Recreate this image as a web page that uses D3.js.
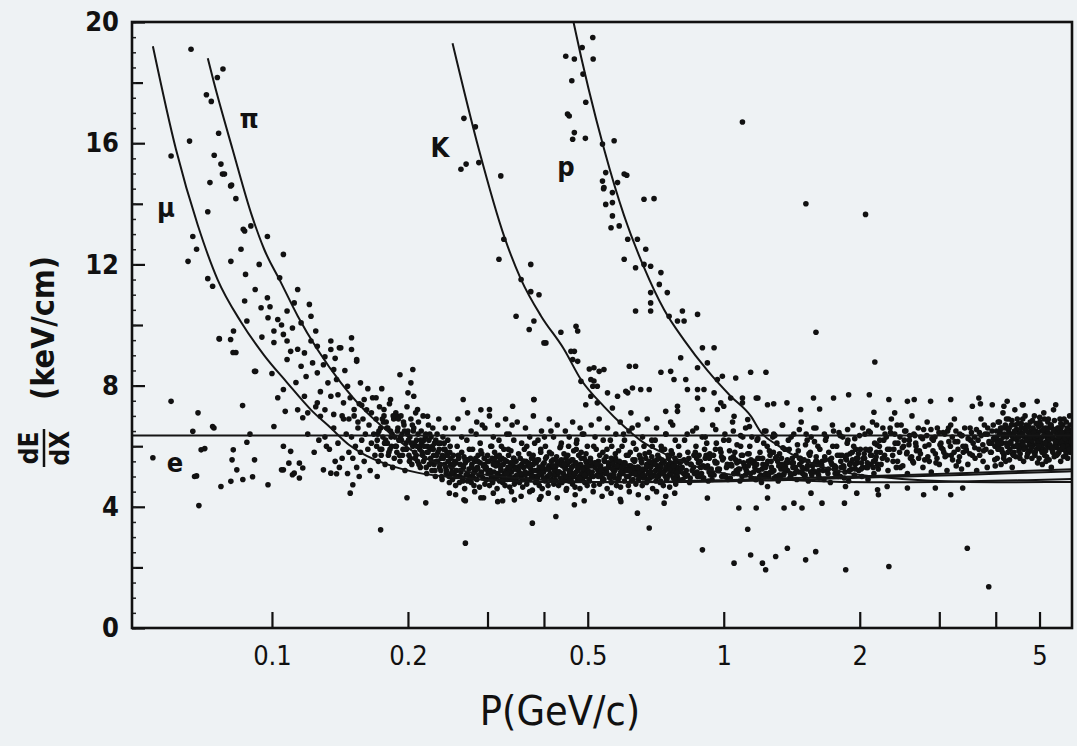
<!DOCTYPE html>
<html>
<head>
<meta charset="utf-8">
<script src="https://cdn.jsdelivr.net/npm/d3@7"></script>
<style>
body { margin: 0; background: #eef2f4; }
svg { display: block; }
text { font-family: "DejaVu Sans Condensed", "DejaVu Sans", sans-serif; fill: #111; }
</style>
</head>
<body>
<svg width="1077" height="746"></svg>
<script>
// assi
var xTicks = [0.1, 0.2, 0.3, 0.4, 0.5, 1, 2, 3, 4, 5];
var xLabels = ["0.1", "0.2", "", "", "0.5", "1", "2", "", "", "5"];
var yMajor = [0, 4, 8, 12, 16, 20];
var yMid = [2, 6, 10, 14, 18];

// curve teoriche (p in GeV/c, dE/dx in keV/cm)
var eP = [0.049, 5.9];
var eE = [6.35, 6.35];
var muP = [0.0545, 0.0613, 0.0685, 0.0758, 0.0854, 0.0961, 0.108, 0.122, 0.135, 0.148, 0.159, 0.18, 0.211, 0.264, 0.338, 0.455, 0.634, 1.0, 1.59, 2.64, 4.02, 5.9];
var muE = [19.2, 15.8, 13.3, 11.5, 10.1, 9.0, 8.1, 7.2, 6.6, 6.05, 5.75, 5.4, 5.12, 4.95, 4.85, 4.81, 4.82, 4.88, 4.97, 5.06, 5.15, 5.24];
var piP = [0.0721, 0.0744, 0.0818, 0.0903, 0.0961, 0.1047, 0.114, 0.126, 0.142, 0.16, 0.177, 0.196, 0.209, 0.237, 0.279, 0.349, 0.447, 0.6, 0.838, 1.33, 2.09, 3.49, 5.3, 5.9];
var piE = [18.8, 18.0, 15.8, 13.6, 12.5, 11.4, 10.3, 9.2, 8.1, 7.2, 6.6, 6.05, 5.75, 5.4, 5.12, 4.95, 4.85, 4.81, 4.82, 4.88, 4.97, 5.06, 5.15, 5.17];
var kP = [0.251, 0.287, 0.327, 0.356, 0.394, 0.443, 0.483, 0.544, 0.602, 0.66, 0.741, 0.84, 0.988, 1.235, 1.58, 2.12, 2.96, 4.69, 5.9];
var kE = [19.3, 15.8, 12.9, 11.5, 10.3, 9.2, 8.2, 7.3, 6.65, 6.15, 5.75, 5.4, 5.12, 4.95, 4.85, 4.81, 4.82, 4.88, 4.92];
var prP = [0.462, 0.4665, 0.5435, 0.602, 0.666, 0.738, 0.817, 0.92, 1.036, 1.147, 1.21, 1.31, 1.41, 1.59, 1.88, 2.35, 3.0, 4.03, 5.9];
var prE = [20.2, 19.9, 15.8, 13.6, 11.9, 10.5, 9.5, 8.5, 7.65, 7.0, 6.45, 6.05, 5.75, 5.4, 5.12, 4.95, 4.85, 4.81, 4.82];

// punti misurati: coppie p, dE/dx
var lowTracks = [
.0662,19.1, .0779,18.45, .0757,18.17, .0716,17.6, .0734,17.38, .0762,16.33, .0657,16.07, .0598,15.58, .0745,15.6, .0771,15.31,
.0777,14.98, .0729,14.7, .0814,14.62, .0832,14.17, .0721,13.74, .0668,12.92, .0977,12.92, .0864,13.16, .0898,13.27, .0785,14.98,
.081,14.59, .087,13.1, .0681,12.5, .0652,12.1, .0854,12.5, .0811,12.1, .106,12.33, .0937,12.0, .0874,11.67, .0721,11.53,
.0739,11.28, .104,11.56, .0918,11.17, .0977,10.9, .087,10.79, .0946,10.57, .098,10.24, .088,10.13, .103,10.18, .114,11.17,
.121,10.68, .112,10.73, .108,10.46, .122,10.29, .116,10.07, .0822,9.8, .0765,9.54, .081,9.52, .0832,9.09, .101,9.8,
.106,9.69, .108,9.47, .101,9.42, .11,9.13, .114,9.2, .118,9.08, .122,9.47, .126,9.3, .135,9.47, .142,9.25,
.15,9.58, .15,9.19, .154,8.8, .108,8.86, .116,8.64, .123,8.75, .13,8.69, .137,8.53, .139,8.2, .126,8.42,
.133,8.09, .147,7.98, .157,8.09, .0915,8.47, .0861,7.34, .106,7.87, .118,7.65, .126,7.43, .135,7.65, .144,7.43,
.152,7.21, .16,7.54, .166,7.1, .177,7.21, .192,8.36, .205,8.53, .203,8.09, .206,7.65, .2,7.76, .183,7.54,
.19,6.99, .21,7.21, .221,6.99, .107,7.15, .114,7.2, .117,6.94, .12,7.1, .128,6.99, .141,9.25, .135,9.19,
.154,8.86, .0764,9.55, .095,9.6, .099,10.6, .105,10.0, .111,9.9, .125,9.8, .131,8.95, .138,8.9, .145,8.5,
.119,8.3, .113,8.1, .128,7.8, .14,7.7, .149,7.6, .158,7.35, .163,7.9, .17,7.6, .175,7.9, .1,8.4,
.103,7.6, .125,7.3, .131,7.2, .137,7.05, .143,7.0, .148,6.9, .155,6.8,
.131,6.3, .134,5.9, .137,6.6, .14,6.1, .143,5.6, .146,6.4, .148,5.8, .144,6.9, .138,5.5, .132,6.0,
.127,6.2, .124,5.8, .12,6.4, .141,5.3, .147,5.1
];
var eRegion = [
.0598,7.48, .0686,7.1, .0744,6.6, .0668,6.49, .0545,5.62, .071,5.92, .0821,5.88, .0816,5.55, .0836,5.22, .088,6.13,
.0915,5.55, .0906,4.99, .0681,5.02, .0771,4.67, .0811,4.84, .098,4.73, .0689,4.04, .106,5.22, .111,5.06, .092,8.47,
.082,9.09, .101,6.65, .106,6.0, .11,5.83, .109,5.44, .115,5.44, .112,5.11, .117,5.28, .105,5.22, .115,4.95,
.13,5.22, .135,5.11, .139,5.09, .149,4.45, .151,4.73, .156,5.0, .171,5.0, .174,3.24, .199,4.3, .219,4.13,
.247,4.45, .266,4.23, .268,2.8, .29,4.3, .316,4.17, .344,4.23, .0739,6.65, .0697,5.88, .0674,5.0, .0862,4.9,
.0894,6.4
];
var kpTracks = [
.513,19.49, .447,18.87, .467,18.78, .486,19.16, .514,18.78, .461,18.06, .488,18.28, .495,17.35, .451,16.96, .455,16.9,
.467,16.35, .463,16.13, .494,16.16, .539,15.97, .572,16.08, .548,15.03, .539,14.75, .542,14.5, .61,14.94, .582,14.7,
.567,14.37, 1.1,16.7, .266,16.82, .282,16.54, .262,15.14, .269,15.31, .321,14.92, .287,15.36, .326,12.83, .318,12.17,
.374,12.0, .356,11.5, .39,11.0, .374,11.1, .347,10.29, .38,10.13, .371,9.85, .404,9.41, .436,9.76, .471,9.96,
.475,9.8, .467,9.13, .475,8.8, .516,8.59, .543,8.53, .638,8.64, .516,8.15, .525,7.98, .483,8.14, .628,7.92,
.613,7.76, .582,7.65, .553,7.76, .508,7.65, .495,7.37, .525,7.43, .567,7.26, .623,7.1, .684,7.87, .763,8.47,
.824,8.2, .79,7.15, .875,7.87, .265,7.54, .29,7.2, .303,7.21, .341,7.32, .38,7.54, .602,14.98, .543,14.54,
.567,14.04, .548,13.98, .567,13.6, .563,13.21, .587,13.27, .666,14.15, .701,14.17, .613,12.83, .644,12.83, .672,12.5,
.602,12.17, .638,11.89, .666,12.0, .689,11.94, .726,11.73, .72,11.34, .75,11.07, .689,11.07, .689,10.73, .689,10.46,
.638,10.46, .757,10.29, .81,10.46, .817,10.13, .79,10.13, .875,10.35, .952,9.25, .803,8.92, .92,8.75, .875,8.59,
1.063,8.25, .968,8.2, .904,7.87, .875,7.59, .952,7.76, .985,7.43, 1.036,7.59, 1.1,7.43, 1.18,7.59, .968,7.21,
1.054,6.99, 1.13,6.88, .4,9.41, .459,9.13, .463,8.86, .618,8.64, .897,9.25, .504,8.55, .53,8.47, .508,8.2,
.513,7.98
];
var isolated = [
1.6,9.76, 2.16,8.78, 1.52,14.0, 2.06,13.65,
.897,2.58, 1.054,2.14, 1.147,2.41, 1.218,2.14, 1.238,1.92, 1.303,2.36, 1.383,2.63, 1.518,2.25, 1.598,2.52, 1.862,1.92,
2.32,2.03, 3.46,2.63, 3.86,1.36
];
var upperFringe = [
1.147,8.44, .993,8.31, .726,8.44, .776,8.2, .831,7.87, .655,7.87, .38,7.54, .607,7.81, 1.58,7.59, 1.89,7.7,
2.32,7.54, 2.55,7.48, 3.18,7.54, 3.55,7.32, 3.93,7.37, 4.58,7.37, 4.24,7.48, 1.1,7.59, 1.25,7.37, 1.29,7.4,
.744,7.15, .79,7.32, .897,7.21, 1.0,7.32, 1.48,7.21, 1.24,8.44, 1.19,7.59, 1.38,7.43, 1.63,7.23, 1.75,7.59,
2.1,7.7, 2.64,7.54, 2.87,7.48, 3.67,7.59, 3.7,7.4, 4.17,7.32, 4.6,7.37, 4.94,7.48, 5.43,7.37, 2.15,7.12,
2.39,7.1
];
var lowerFringe = [
.377,3.46, .425,3.68, .684,3.3, 1.13,3.26, .644,3.79, 1.08,3.96, 1.36,3.96, 1.65,4.12, 2.77,4.4, 2.94,4.62,
1.43,4.12, .467,4.07, .394,4.34, .592,4.17, .738,4.12, .92,4.29, 1.97,4.45, 2.19,4.56, 2.3,4.67, 1.86,4.67,
1.56,4.45, 1.25,4.67, 1.18,3.96, 1.49,3.96, 1.85,4.12, 3.18,4.4, 3.38,4.62, 2.2,4.4, 2.55,4.62, 1.25,4.29,
.255,4.4, .268,4.2, .281,4.5, .294,4.3, .309,4.45, .324,4.2, .339,4.5, .356,4.35, .372,4.5, .391,4.25,
.409,4.45, .428,4.3, .448,4.55, .469,4.4, .491,4.2, .514,4.5, .538,4.35, .563,4.45, .59,4.25, .618,4.5,
.647,4.4, .678,4.3, .71,4.5, .744,4.35, .779,4.45
];
// banda densa, p da 0.15 a 0.25
var band1 = [
.150,6.3, .151,5.6, .152,7.0, .153,6.0, .154,5.3, .155,6.6, .156,7.4, .157,5.8, .158,6.2, .159,6.9,
.160,5.5, .161,6.4, .162,7.2, .163,5.9, .164,6.7, .165,5.2, .166,6.1, .167,7.6, .168,6.4, .169,5.7,
.170,6.9, .171,6.2, .172,5.5, .173,7.3, .174,6.6, .175,5.9, .176,6.3, .177,7.0, .178,5.4, .179,6.8,
.180,6.1, .181,5.7, .182,7.4, .183,6.5, .184,6.0, .185,5.3, .186,6.9, .187,6.3, .188,7.1, .189,5.8,
.190,6.6, .191,6.2, .192,5.5, .193,7.0, .194,6.4, .195,5.9, .196,6.7, .197,5.2, .198,6.1, .199,7.3,
.200,6.5, .201,5.7, .202,6.3, .203,6.9, .204,5.4, .205,6.0, .206,6.6, .207,5.8, .208,7.1, .209,6.2,
.210,5.5, .211,6.8, .212,6.0, .213,5.3, .214,6.5, .215,5.8, .216,7.0, .217,6.2, .218,5.6, .219,6.4,
.220,5.1, .221,6.0, .222,6.7, .223,5.4, .224,5.9, .225,6.3, .226,5.2, .227,6.6, .228,5.7, .229,6.1,
.230,5.0, .231,5.5, .232,6.4, .233,5.8, .234,6.9, .235,5.3, .236,6.1, .237,5.6, .238,4.9, .239,6.3,
.240,5.9, .241,5.4, .242,6.6, .243,5.1, .244,5.8, .245,6.2, .246,5.5, .247,4.8, .248,6.0, .249,5.6,
.1705,6.0, .1725,6.5, .1745,5.7, .1765,6.8, .1785,6.2, .1805,6.6, .1825,5.9, .1845,6.4, .1865,5.6, .1885,6.0,
.1905,6.9, .1925,6.3, .1945,5.7, .1965,6.5, .1985,5.9, .2005,6.2, .2025,5.6, .2045,6.7, .2065,6.1, .2085,5.7,
.2105,6.4, .2125,5.9, .2145,6.1, .2165,5.5, .2185,6.3, .2205,5.8, .2225,6.2, .2245,5.6, .2265,6.0, .2285,5.4,
.2305,6.2, .2325,5.5, .2345,5.9, .2365,5.2, .2385,5.7, .2405,6.1, .2425,5.3, .2445,5.7, .2465,5.0, .2485,5.4,
.1715,6.4, .1735,5.9, .1755,6.9, .1775,6.1, .1795,6.6, .1815,5.8, .1835,6.3, .1855,7.0, .1875,6.0, .1895,6.5,
.1915,5.7, .1935,6.2, .1955,6.8, .1975,5.9, .1995,6.4, .2015,5.5, .2035,6.1, .2055,6.5, .2075,5.6, .2095,6.0,
.2115,5.4, .2135,6.2, .2155,5.7, .2175,6.0, .2195,5.3, .2215,5.8, .2235,6.4, .2255,5.5, .2275,5.9, .2295,5.2,
.2315,5.7, .2335,6.1, .2355,5.4, .2375,5.0, .2395,5.6, .2415,5.9, .2435,5.2, .2455,5.5, .2475,5.8, .2495,5.1
];
// banda densa, p da 0.25 a 0.8
var band2 = [
.250,5.3, .251,4.9, .252,5.7, .253,5.1, .254,5.5, .255,4.7, .256,5.2, .257,6.0, .258,5.0, .259,5.6,
.260,4.8, .261,5.4, .262,5.15, .263,5.8, .264,4.95, .265,5.35, .266,5.65, .267,4.6, .268,5.45, .269,5.05,
.270,6.2, .271,4.85, .272,5.55, .273,5.25, .274,5.0, .275,5.6, .276,4.8, .277,5.4, .278,5.9, .279,5.1,
.280,4.7, .281,5.5, .282,5.2, .283,6.4, .284,4.9, .285,5.3, .286,5.7, .287,5.05, .288,4.65, .289,5.45,
.290,5.85, .291,5.15, .292,6.7, .293,4.95, .294,5.35, .295,5.6, .296,4.75, .297,5.25, .298,5.3, .299,4.9,
.300,5.7, .301,5.1, .302,5.5, .303,4.7, .304,5.2, .305,6.0, .306,5.0, .307,5.6, .308,4.8, .309,5.4,
.310,5.15, .311,5.8, .312,4.95, .313,5.35, .314,5.65, .315,4.6, .316,5.45, .317,5.05, .318,6.2, .319,4.85,
.320,5.55, .321,5.25, .322,5.0, .323,5.6, .324,4.8, .325,5.4, .326,5.9, .327,5.1, .328,4.7, .329,5.5,
.330,5.2, .331,6.4, .332,4.9, .333,5.3, .334,5.7, .335,5.05, .336,4.65, .337,5.45, .338,5.85, .339,5.15,
.340,6.7, .341,4.95, .342,5.35, .343,5.6, .344,4.75, .345,5.25, .346,5.0, .347,5.5, .348,4.85, .349,5.3,
.3515,5.2, .353,4.8, .3545,5.6, .356,5.0, .3575,5.4, .359,4.65, .3605,5.3, .362,5.9, .3635,5.05, .365,5.5,
.3665,4.75, .368,5.35, .3695,5.1, .371,5.75, .3725,4.9, .374,5.25, .3755,5.6, .377,4.55, .3785,5.4, .380,5.0,
.3815,6.1, .383,4.8, .3845,5.45, .386,5.2, .3875,4.95, .389,5.55, .3905,4.7, .392,5.3, .3935,5.8, .395,5.05,
.3965,4.6, .398,5.4, .3995,5.15, .401,6.3, .4025,4.85, .404,5.25, .4055,5.65, .407,5.0, .4085,4.7, .410,5.35,
.4115,5.8, .413,5.1, .4145,6.5, .416,4.9, .4175,5.3, .419,5.55, .4205,4.75, .422,5.2, .4235,5.25, .425,4.85,
.4265,5.65, .428,5.05, .4295,5.45, .431,4.7, .4325,5.15, .434,5.95, .4355,4.95, .437,5.55, .4385,4.8, .440,5.35,
.4415,5.1, .443,5.75, .4445,4.9, .446,5.3, .4475,5.6, .449,4.6, .4505,5.4, .452,5.0, .4535,6.0, .455,4.85,
.4565,5.5, .458,5.2, .4595,4.95, .461,5.55, .4625,4.75, .464,5.35, .4655,5.85, .467,5.05, .4685,4.65, .470,5.45,
.4715,5.15, .473,6.2, .4745,4.9, .476,5.25, .4775,5.7, .479,5.0, .4805,4.6, .482,5.4, .4835,5.8, .485,5.1,
.4865,6.4, .488,4.95, .4895,5.3, .491,5.6, .4925,4.8, .494,5.2, .4955,5.0, .497,5.45, .4985,4.7,
.501,5.2, .504,4.85, .507,5.6, .510,5.0, .513,5.4, .516,4.7, .519,5.3, .522,5.9, .525,5.05, .528,5.5,
.531,4.75, .534,5.35, .537,5.1, .540,5.8, .543,4.9, .546,5.25, .549,5.65, .552,4.6, .555,5.45, .558,5.0,
.561,6.2, .564,4.8, .567,5.5, .570,5.2, .573,4.95, .576,5.6, .579,4.7, .582,5.3, .585,5.85, .588,5.05,
.591,4.65, .594,5.4, .597,5.15, .600,6.4, .603,4.85, .606,5.25, .609,5.7, .612,5.0, .615,4.7, .618,5.35,
.621,5.8, .624,5.1, .627,6.6, .630,4.9, .633,5.3, .636,5.55, .639,4.75, .642,5.2, .645,5.3, .648,4.9,
.651,5.7, .654,5.1, .657,5.5, .660,4.7, .663,5.2, .666,6.0, .669,5.0, .672,5.6, .675,4.8, .678,5.4,
.681,5.15, .684,5.8, .687,4.95, .690,5.35, .693,5.65, .696,4.6, .699,5.45, .702,5.05, .705,6.2, .708,4.85,
.711,5.55, .714,5.25, .717,5.0, .720,5.6, .723,4.8, .726,5.4, .729,5.9, .732,5.1, .735,4.7, .738,5.5,
.741,5.2, .744,6.4, .747,4.9, .750,5.3, .753,5.7, .756,5.05, .759,4.65, .762,5.45, .765,5.85, .768,5.15,
.771,6.7, .774,4.95, .777,5.35, .780,5.6, .783,4.75, .786,5.25, .789,5.0, .792,5.5, .795,4.9, .798,5.7,
.2505,5.15, .2555,5.45, .2605,5.0, .2655,5.3, .2705,5.55, .2755,4.95, .2805,5.25, .2855,5.5, .2905,5.05, .2955,5.4,
.3005,5.2, .3055,4.9, .3105,5.55, .3155,5.1, .3205,5.35, .3255,5.0, .3305,5.5, .3355,5.2, .3405,5.45, .3455,4.95,
.3505,5.3, .3555,5.1, .3605,5.5, .3655,4.9, .3705,5.35, .3755,5.15, .3805,5.55, .3855,5.0, .3905,5.3, .3955,5.2,
.4005,5.45, .4055,4.95, .4105,5.25, .4155,5.5, .4205,5.05, .4255,5.35, .4305,5.15, .4355,5.4, .4405,4.95, .4455,5.25,
.4505,5.5, .4555,5.1, .4605,5.3, .4655,5.0, .4705,5.45, .4755,5.2, .4805,5.35, .4855,4.9, .4905,5.25, .4955,5.5,
.5025,5.1, .5085,5.35, .5145,5.0, .5205,5.45, .5265,5.2, .5325,5.3, .5385,4.95, .5445,5.5, .5505,5.15, .5565,5.35,
.5625,5.05, .5685,5.4, .5745,5.2, .5805,5.5, .5865,4.95, .5925,5.3, .5985,5.1, .6045,5.45, .6105,5.2, .6165,5.0,
.6225,5.35, .6285,5.25, .6345,5.5, .6405,5.05, .6465,5.3, .6525,5.15, .6585,5.45, .6645,4.95, .6705,5.25, .6765,5.4,
.6825,5.1, .6885,5.3, .6945,5.0, .7005,5.5, .7065,5.2, .7125,5.35, .7185,5.05, .7245,5.3, .7305,5.15, .7365,5.45,
.7425,5.0, .7485,5.25, .7545,5.4, .7605,5.1, .7665,5.3, .7725,5.2, .7785,5.45, .7845,5.05, .7905,5.3, .7965,5.15,
.252,6.6, .258,6.9, .263,6.3, .271,7.1, .276,6.5, .284,6.8, .289,6.1, .296,6.6, .303,7.0, .309,6.3,
.316,6.7, .322,6.0, .329,6.9, .335,6.4, .343,6.2, .349,6.8, .357,6.1, .364,6.6, .372,6.3, .379,7.0,
.388,6.2, .395,6.5, .403,6.0, .411,6.9, .420,6.3, .428,6.7, .437,6.1, .446,6.5, .455,6.3, .463,6.8,
.472,6.1, .481,6.6, .490,6.4, .499,6.0, .509,6.7, .519,6.3, .530,6.9, .541,6.2, .553,6.6, .565,6.0,
.577,6.4, .590,6.8, .603,6.2, .617,6.5, .631,6.1, .646,6.7, .661,6.3, .677,6.9, .693,6.2, .710,6.6,
.727,6.0, .745,6.4, .763,6.8, .781,6.2
];
// terzo strato del nucleo della banda, p da 0.25 a 0.8
var band2c = [
.2525,5.4, .2555,5.0, .2585,5.7, .2615,5.2, .2645,4.85, .2675,5.55, .2705,5.1, .2735,5.9, .2765,5.3, .2795,4.95,
.2825,5.6, .2855,5.25, .2885,5.05, .2915,5.75, .2945,5.35, .2975,4.9, .3005,5.5, .3035,5.15, .3065,6.0, .3095,5.45,
.3125,5.4, .3155,5.0, .3185,5.7, .3215,5.2, .3245,4.85, .3275,5.55, .3305,5.1, .3335,5.9, .3365,5.3, .3395,4.95,
.3425,5.6, .3455,5.25, .3485,5.05, .3515,5.75, .3545,5.35, .3575,4.9, .3605,5.5, .3635,5.15, .3665,6.0, .3695,5.45,
.3725,5.4, .3755,5.0, .3785,5.7, .3815,5.2, .3845,4.85, .3875,5.55, .3905,5.1, .3935,5.9, .3965,5.3, .3995,4.95,
.4035,5.6, .4075,5.25, .4115,5.05, .4155,5.75, .4195,5.35, .4235,4.9, .4275,5.5, .4315,5.15, .4355,6.0, .4395,5.45,
.4435,5.4, .4475,5.0, .4515,5.7, .4555,5.2, .4595,4.85, .4635,5.55, .4675,5.1, .4715,5.9, .4755,5.3, .4795,4.95,
.4835,5.6, .4875,5.25, .4915,5.05, .4955,5.75, .4995,5.35, .5035,4.9, .5075,5.5, .5115,5.15, .5155,6.0, .5195,5.45,
.5235,5.4, .5275,5.0, .5315,5.7, .5355,5.2, .5395,4.85, .5435,5.55, .5475,5.1, .5515,5.9, .5555,5.3, .5595,4.95,
.5635,5.6, .5675,5.25, .5715,5.05, .5755,5.75, .5795,5.35, .5835,4.9, .5875,5.5, .5915,5.15, .5955,6.0, .5995,5.45,
.6045,5.4, .6095,5.0, .6145,5.7, .6195,5.2, .6245,4.85, .6295,5.55, .6345,5.1, .6395,5.9, .6445,5.3, .6495,4.95,
.6545,5.6, .6595,5.25, .6645,5.05, .6695,5.75, .6745,5.35, .6795,4.9, .6845,5.5, .6895,5.15, .6945,6.0, .6995,5.45,
.7045,5.4, .7095,5.0, .7145,5.7, .7195,5.2, .7245,4.85, .7295,5.55, .7345,5.1, .7395,5.9, .7445,5.3, .7495,4.95,
.7545,5.6, .7595,5.25, .7645,5.05, .7695,5.75, .7745,5.35, .7795,4.9, .7845,5.5, .7895,5.15, .7945,6.0, .7995,5.45
];
// banda, p da 0.8 a 2.2
var band3 = [
.805,5.5, .812,4.9, .819,6.2, .826,5.2, .833,5.8, .840,4.8, .847,5.4, .854,6.5, .861,5.1, .868,6.0,
.875,5.0, .882,5.7, .889,5.3, .896,6.3, .903,4.95, .910,5.6, .917,6.1, .924,4.85, .931,5.75, .938,5.25,
.945,6.7, .952,5.05, .959,5.9, .966,5.45, .974,5.2, .982,5.9, .990,5.0, .998,5.6, 1.006,6.4, 1.014,5.3,
1.022,4.9, 1.030,5.85, 1.038,5.4, 1.046,6.8, 1.054,5.1, 1.062,5.55, 1.070,6.05, 1.078,5.25, 1.086,4.85, 1.094,5.7,
1.102,6.3, 1.110,5.35, 1.118,6.6, 1.126,5.15, 1.134,5.5, 1.142,6.0, 1.150,4.95, 1.158,5.45, 1.167,5.5, 1.176,4.9,
1.185,6.2, 1.194,5.2, 1.203,5.8, 1.212,4.8, 1.221,5.4, 1.230,6.5, 1.239,5.1, 1.248,6.0, 1.257,5.0, 1.266,5.7,
1.275,5.3, 1.284,6.3, 1.293,4.95, 1.302,5.6, 1.311,6.1, 1.320,4.85, 1.329,5.75, 1.338,5.25, 1.347,6.7, 1.356,5.05,
1.365,5.9, 1.374,5.45, 1.385,5.2, 1.396,5.9, 1.407,5.0, 1.418,5.6, 1.429,6.4, 1.440,5.3, 1.451,4.9, 1.462,5.85,
1.473,5.4, 1.484,6.8, 1.495,5.1, 1.506,5.55, 1.517,6.05, 1.528,5.25, 1.539,4.85, 1.550,5.7, 1.561,6.3, 1.572,5.35,
1.583,6.6, 1.594,5.15, 1.605,5.5, 1.616,6.0, 1.627,4.95, 1.638,5.45, 1.652,5.5, 1.666,4.9, 1.680,6.2, 1.694,5.2,
1.708,5.8, 1.722,4.8, 1.736,5.4, 1.750,6.5, 1.764,5.1, 1.778,6.0, 1.792,5.0, 1.806,5.7, 1.820,5.3, 1.834,6.3,
1.848,4.95, 1.862,5.6, 1.876,6.1, 1.890,4.85, 1.904,5.75, 1.918,5.25, 1.932,6.7, 1.946,5.05, 1.960,5.9, 1.974,5.45,
1.990,5.2, 2.006,5.9, 2.022,5.0, 2.038,5.6, 2.054,6.4, 2.070,5.3, 2.086,4.9, 2.102,5.85, 2.118,5.4, 2.134,6.8,
2.150,5.1, 2.166,5.55, 2.182,6.05, 2.198,5.25,
.809,5.3, .823,5.0, .837,5.6, .851,5.2, .865,5.8, .879,5.45, .893,5.1, .907,5.9, .921,5.35, .935,5.05,
.949,5.7, .963,6.1, .978,5.25, .994,5.55, 1.010,5.0, 1.026,6.2, 1.042,5.35, 1.058,5.8, 1.074,5.1, 1.090,6.0,
1.106,5.45, 1.122,5.2, 1.138,5.75, 1.154,6.3, 1.172,5.3, 1.190,5.6, 1.208,5.05, 1.226,6.1, 1.244,5.4, 1.262,5.85,
1.280,5.15, 1.298,6.35, 1.316,5.5, 1.334,5.0, 1.352,5.95, 1.370,5.3, 1.390,6.2, 1.412,5.45, 1.434,5.1, 1.456,6.05,
1.478,5.6, 1.500,5.25, 1.522,6.4, 1.544,5.75, 1.566,5.05, 1.588,6.15, 1.610,5.4, 1.632,5.9, 1.659,5.2, 1.687,6.3,
1.715,5.55, 1.743,6.0, 1.771,5.3, 1.799,6.45, 1.827,5.7, 1.855,5.15, 1.883,6.2, 1.911,5.45, 1.939,6.0, 1.967,5.6,
1.998,6.35, 2.030,5.3, 2.062,5.9, 2.094,6.5, 2.126,5.7, 2.158,6.1, 2.190,5.4,
.815,5.1, .829,5.45, .843,4.95, .857,5.3, .871,5.6, .886,5.0, .900,5.35, .914,5.7, .928,5.15, .942,4.9,
.956,5.5, .970,5.25, .986,5.8, 1.002,5.05, 1.018,5.4, 1.034,4.95, 1.050,5.65, 1.066,5.2, 1.082,5.5, 1.098,5.0,
1.114,5.3, 1.130,5.75, 1.146,5.1, 1.162,5.45, 1.180,4.9, 1.198,5.6, 1.216,5.25, 1.234,5.0, 1.252,5.5, 1.270,5.15,
1.288,5.8, 1.306,5.0, 1.324,5.35, 1.342,5.6, 1.360,5.1, 1.380,5.45, 1.401,4.95, 1.423,5.3, 1.445,5.7, 1.467,5.15,
1.489,5.5, 1.511,5.0, 1.533,5.35, 1.555,5.8, 1.577,5.2, 1.599,5.5, 1.621,5.05, 1.645,5.4, 1.673,5.65, 1.701,5.1,
1.729,5.45, 1.757,5.25, 1.785,5.7, 1.813,5.0, 1.841,5.35, 1.869,5.55, 1.897,5.2, 1.925,5.8, 1.953,5.4, 1.982,5.6,
2.014,5.25, 2.046,5.75, 2.078,5.45, 2.110,5.9, 2.142,5.3, 2.174,5.65,
.83,6.4, .87,6.6, .91,6.3, .96,6.55, 1.0,6.2, 1.05,6.5, 1.09,6.35, 1.14,6.65, 1.19,6.25, 1.24,6.5,
1.29,6.4, 1.35,6.7, 1.41,6.3, 1.47,6.55, 1.53,6.2, 1.6,6.6, 1.67,6.4, 1.74,6.7, 1.81,6.35, 1.88,6.55,
1.95,6.25, 2.03,6.6, 2.11,6.45, 2.18,6.7,
.803,5.25, .817,5.55, .831,5.05, .845,5.4, .859,5.7, .873,5.15, .887,5.5, .901,4.95, .915,5.3, .929,5.6,
.944,5.1, .958,5.45, .973,5.2, .989,5.65, 1.005,5.0, 1.021,5.35, 1.037,5.6, 1.053,5.1, 1.069,5.45, 1.085,5.25,
1.101,5.7, 1.117,5.05, 1.133,5.35, 1.149,5.55, 1.165,5.15, 1.183,5.4, 1.201,5.0, 1.219,5.6, 1.237,5.3, 1.255,5.1,
1.273,5.5, 1.291,5.2, 1.309,5.65, 1.327,5.05, 1.345,5.4, 1.363,5.25, 1.383,5.55, 1.404,5.1, 1.426,5.45, 1.448,5.2,
1.470,5.6, 1.492,5.3, 1.514,5.05, 1.536,5.5, 1.558,5.15, 1.580,5.4, 1.602,5.65, 1.624,5.2, 1.648,5.35, 1.676,5.55,
1.704,5.25, 1.732,5.6, 1.760,5.35, 1.788,5.15, 1.816,5.5, 1.844,5.3, 1.872,5.7, 1.900,5.4, 1.928,5.55, 1.956,5.25,
1.986,5.75, 2.018,5.45, 2.050,5.6, 2.082,5.3, 2.114,5.7, 2.146,5.5, 2.178,5.8
];
// banda, p da 2.2 a 4
var band4 = [
2.21,6.0, 2.23,5.4, 2.25,6.6, 2.27,5.7, 2.29,6.3, 2.31,5.2, 2.33,5.9, 2.35,6.9, 2.37,5.5, 2.39,6.4,
2.41,5.3, 2.43,6.1, 2.45,5.8, 2.47,6.7, 2.49,5.35, 2.51,6.2, 2.53,6.5, 2.55,5.1, 2.57,6.05, 2.59,5.6,
2.61,7.0, 2.63,5.45, 2.65,6.35, 2.67,5.85, 2.70,5.6, 2.73,6.3, 2.76,5.3, 2.79,6.0, 2.82,6.8, 2.85,5.5,
2.88,5.15, 2.91,6.2, 2.94,5.75, 2.97,6.6, 3.00,5.4, 3.03,5.95, 3.06,6.45, 3.09,5.65, 3.12,5.2, 3.15,6.15,
3.18,6.7, 3.21,5.55, 3.24,6.9, 3.27,5.35, 3.30,5.9, 3.33,6.4, 3.36,5.25, 3.39,5.8, 3.43,6.0, 3.47,5.4,
3.51,6.6, 3.55,5.7, 3.59,6.3, 3.63,5.2, 3.67,5.9, 3.71,6.9, 3.75,5.5, 3.79,6.4, 3.83,5.3, 3.87,6.1,
3.91,5.8, 3.95,6.7, 3.99,5.35,
2.22,5.8, 2.26,6.2, 2.30,5.55, 2.34,6.45, 2.38,5.9, 2.42,6.7, 2.46,5.3, 2.50,6.0, 2.54,5.75, 2.58,6.35,
2.62,5.5, 2.66,6.1, 2.71,5.85, 2.77,6.55, 2.83,5.65, 2.89,6.25, 2.95,5.45, 3.01,6.05, 3.07,5.8, 3.13,6.5,
3.19,5.7, 3.25,6.15, 3.31,5.5, 3.37,6.35, 3.44,5.9, 3.52,6.2, 3.60,5.6, 3.68,6.45, 3.76,5.85, 3.84,6.6,
3.92,6.1, 3.98,5.55,
2.215,6.2, 2.245,5.6, 2.275,6.4, 2.305,5.9, 2.335,6.6, 2.365,5.7, 2.395,6.1, 2.425,5.5, 2.455,6.3, 2.485,5.95,
2.515,6.5, 2.545,5.8, 2.575,6.2, 2.605,5.65, 2.635,6.4, 2.665,6.0, 2.695,6.6, 2.725,5.75, 2.755,6.25, 2.785,5.55,
2.815,6.35, 2.845,6.05, 2.875,6.55, 2.905,5.85, 2.935,6.3, 2.965,5.6, 2.995,6.45, 3.025,6.1, 3.055,5.9, 3.085,6.4,
3.115,5.7, 3.145,6.6, 3.175,6.0, 3.205,6.3, 3.235,5.8, 3.265,6.5, 3.295,6.15, 3.325,5.65, 3.355,6.35, 3.385,6.0,
3.415,6.6, 3.445,5.85, 3.475,6.25, 3.505,5.75, 3.535,6.45, 3.565,6.1, 3.595,5.95, 3.625,6.55, 3.655,6.2, 3.685,5.7,
3.715,6.35, 3.745,6.05, 3.775,6.7, 3.805,5.9, 3.835,6.4, 3.865,6.15, 3.895,5.8, 3.925,6.5, 3.955,6.25, 3.985,6.0
];
// banda, p da 4 a 5.9 (addensamento)
var band5 = [
4.01,6.2, 4.03,5.6, 4.05,6.8, 4.07,5.9, 4.09,6.5, 4.11,5.4, 4.13,6.1, 4.15,7.1, 4.17,5.7, 4.19,6.6,
4.21,5.5, 4.23,6.3, 4.25,6.0, 4.27,6.9, 4.29,5.55, 4.31,6.4, 4.33,6.7, 4.35,5.3, 4.37,6.25, 4.39,5.8,
4.41,7.2, 4.43,5.65, 4.45,6.55, 4.47,6.05, 4.49,6.0, 4.51,6.4, 4.53,5.75, 4.55,6.6, 4.57,6.15, 4.59,6.9,
4.61,5.5, 4.63,6.3, 4.65,5.95, 4.67,6.7, 4.69,5.65, 4.71,6.2, 4.73,6.45, 4.75,5.85, 4.77,6.8, 4.79,6.1,
4.81,5.6, 4.83,6.35, 4.85,6.05, 4.87,7.0, 4.89,5.8, 4.91,6.5, 4.93,6.25, 4.95,5.45, 4.97,6.2, 4.99,5.6,
5.01,6.8, 5.03,5.9, 5.05,6.5, 5.07,5.4, 5.09,6.1, 5.11,7.1, 5.13,5.7, 5.15,6.6, 5.17,5.5, 5.19,6.3,
5.21,6.0, 5.23,6.9, 5.25,5.55, 5.27,6.4, 5.29,6.7, 5.31,5.3, 5.33,6.25, 5.35,5.8, 5.37,7.2, 5.39,5.65,
5.41,6.55, 5.43,6.05, 5.45,6.0, 5.47,6.4, 5.49,5.75, 5.51,6.6, 5.53,6.15, 5.55,6.9, 5.57,5.5, 5.59,6.3,
5.61,5.95, 5.63,6.7, 5.65,5.65, 5.67,6.2, 5.69,6.45, 5.71,5.85, 5.73,6.8, 5.75,6.1, 5.77,5.6, 5.79,6.35,
5.81,6.05, 5.83,7.0, 5.85,5.8, 5.87,6.5, 5.89,6.25,
4.02,6.3, 4.06,6.0, 4.10,6.6, 4.14,5.8, 4.18,6.4, 4.22,6.1, 4.26,6.55, 4.30,5.9, 4.34,6.35, 4.38,6.0,
4.42,6.7, 4.46,6.2, 4.50,5.85, 4.54,6.45, 4.58,6.1, 4.62,6.6, 4.66,5.95, 4.70,6.3, 4.74,6.05, 4.78,6.5,
4.82,6.2, 4.86,5.8, 4.90,6.4, 4.94,6.1, 4.98,6.65, 5.02,6.0, 5.06,6.3, 5.10,5.9, 5.14,6.45, 5.18,6.15,
5.22,6.6, 5.26,6.0, 5.30,6.35, 5.34,5.85, 5.38,6.5, 5.42,6.2, 5.46,5.95, 5.50,6.4, 5.54,6.1, 5.58,6.6,
5.62,5.9, 5.66,6.3, 5.70,6.05, 5.74,6.5, 5.78,6.2, 5.82,5.95, 5.86,6.4,
4.04,6.1, 4.08,6.4, 4.12,5.9, 4.16,6.3, 4.20,6.7, 4.24,6.0, 4.28,6.45, 4.32,6.15, 4.36,5.75, 4.40,6.5,
4.44,6.25, 4.48,6.75, 4.52,5.95, 4.56,6.35, 4.60,6.05, 4.64,6.55, 4.68,6.2, 4.72,5.8, 4.76,6.4, 4.80,6.0,
4.84,6.6, 4.88,6.3, 4.92,5.9, 4.96,6.45, 5.00,6.15, 5.04,6.7, 5.08,6.05, 5.12,6.35, 5.16,5.85, 5.20,6.5,
5.24,6.2, 5.28,5.95, 5.32,6.6, 5.36,6.3, 5.40,6.0, 5.44,6.45, 5.48,6.2, 5.52,5.8, 5.56,6.5, 5.60,6.15,
5.64,6.4, 5.68,5.9, 5.72,6.35, 5.76,6.0, 5.80,6.55, 5.84,6.25, 5.88,5.85,
4.015,6.5, 4.045,5.9, 4.075,6.8, 4.105,6.2, 4.135,6.6, 4.165,5.6, 4.195,6.35, 4.225,6.9, 4.255,5.8, 4.285,6.6,
4.315,6.1, 4.345,6.85, 4.375,5.7, 4.405,6.45, 4.435,6.0, 4.465,6.9, 4.495,6.3, 4.525,5.6, 4.555,6.75, 4.585,6.4,
4.615,5.9, 4.645,7.0, 4.675,6.5, 4.705,5.75, 4.735,6.65, 4.765,6.3, 4.795,5.95, 4.825,6.85, 4.855,6.45, 4.885,5.7,
4.915,6.75, 4.945,6.35, 4.975,6.0, 5.005,6.95, 5.035,6.25, 5.065,5.8, 5.095,6.55, 5.125,6.9, 5.155,6.1, 5.185,5.65,
5.215,6.8, 5.245,6.4, 5.275,6.05, 5.305,6.7, 5.335,5.95, 5.365,6.5, 5.395,6.85, 5.425,6.15, 5.455,5.7, 5.485,6.6,
5.515,6.3, 5.545,5.9, 5.575,6.75, 5.605,6.45, 5.635,6.0, 5.665,6.9, 5.695,6.25, 5.725,5.75, 5.755,6.6, 5.785,6.35,
5.815,5.9, 5.845,6.7, 5.875,6.15
];

var svg = d3.select("svg"),
    width = +svg.attr("width"),
    height = +svg.attr("height");

// bordi dell'area del grafico (non usare "top": e' window.top)
var pLeft = 132, pRight = 1072, pTop = 22, pBottom = 628;

// scala logaritmica per p, lineare per dE/dx
var x = d3.scaleLog().domain([0.049, 5.9]).range([pLeft, pRight]);
var y = d3.scaleLinear().domain([0, 20]).range([pBottom, pTop]);

svg.append("defs").append("clipPath").attr("id", "area")
  .append("rect").attr("x", pLeft).attr("y", pTop)
  .attr("width", pRight - pLeft).attr("height", pBottom - pTop);

function pairs(a) {
  var out = [];
  for (var i = 0; i < a.length; i += 2) out.push([a[i], a[i + 1]]);
  return out;
}

var plot = svg.append("g").attr("clip-path", "url(#area)");

// punti
var allPts = [].concat(pairs(lowTracks), pairs(eRegion), pairs(kpTracks), pairs(isolated),
  pairs(upperFringe), pairs(lowerFringe), pairs(band1), pairs(band2), pairs(band2c),
  pairs(band3), pairs(band4), pairs(band5));

plot.append("g").selectAll("circle")
  .data(allPts)
  .enter().append("circle")
  .attr("cx", function (d) { return x(d[0]); })
  .attr("cy", function (d) { return y(d[1]); })
  .attr("r", 2.8)
  .attr("fill", "#111");

// curve
var line = d3.line()
  .x(function (d) { return x(d[0]); })
  .y(function (d) { return y(d[1]); })
  .curve(d3.curveMonotoneX);

[[eP, eE], [muP, muE], [piP, piE], [kP, kE], [prP, prE]].forEach(function (c) {
  var pts = c[0].map(function (p, i) { return [p, c[1][i]]; });
  plot.append("path")
    .attr("d", line(pts))
    .attr("fill", "none")
    .attr("stroke", "#151515")
    .attr("stroke-width", 2);
});

// asse x
var xAxis = d3.axisBottom(x)
  .tickValues(xTicks)
  .tickSize(-16)
  .tickSizeOuter(0)
  .tickPadding(18)
  .tickFormat(function (d, i) { return xLabels[i]; });

var gx = svg.append("g").attr("transform", "translate(0," + pBottom + ")").call(xAxis);
gx.select(".domain").remove();
gx.selectAll("line").attr("stroke", "#111").attr("stroke-width", 2.2);
gx.selectAll("text").attr("font-size", 27).attr("font-family", "DejaVu Sans Condensed").attr("fill", "#111");

// asse y
var yAxis = d3.axisLeft(y).tickValues(yMajor).tickSize(-13).tickSizeOuter(0).tickPadding(13);
var gy = svg.append("g").attr("transform", "translate(" + pLeft + ",0)").call(yAxis);
gy.select(".domain").remove();
gy.selectAll("line").attr("stroke", "#111").attr("stroke-width", 2.2);
gy.selectAll("text").attr("font-size", 27).attr("font-weight", "bold")
  .attr("font-family", "DejaVu Sans Condensed").attr("fill", "#111");

var gy2 = svg.append("g").attr("transform", "translate(" + pLeft + ",0)")
  .call(d3.axisLeft(y).tickValues(yMid).tickSize(-11).tickSizeOuter(0).tickFormat(""));
gy2.select(".domain").remove();
gy2.selectAll("line").attr("stroke", "#111").attr("stroke-width", 2.2);

var gy3 = svg.append("g").attr("transform", "translate(" + pLeft + ",0)")
  .call(d3.axisLeft(y).tickValues(d3.range(0, 20.01, 0.5)).tickSize(-4).tickSizeOuter(0).tickFormat(""));
gy3.select(".domain").remove();
gy3.selectAll("line").attr("stroke", "#222").attr("stroke-width", 1.5);

// cornice
svg.append("rect")
  .attr("x", pLeft).attr("y", pTop)
  .attr("width", pRight - pLeft).attr("height", pBottom - pTop)
  .attr("fill", "none").attr("stroke", "#111").attr("stroke-width", 2.6);

// etichette delle particelle
var labels = [["\u03bc", 166, 217], ["\u03c0", 249, 128], ["K", 440, 157], ["p", 566, 176], ["e", 175, 472]];
svg.append("g").selectAll("text")
  .data(labels)
  .enter().append("text")
  .attr("x", function (d) { return d[1]; })
  .attr("y", function (d) { return d[2]; })
  .attr("text-anchor", "middle")
  .attr("font-size", 27)
  .attr("font-weight", "bold")
  .text(function (d) { return d[0]; });

// titolo asse x
svg.append("text")
  .attr("x", 560).attr("y", 725)
  .attr("text-anchor", "middle")
  .attr("font-size", 41)
  .text("P(GeV/c)");

// titolo asse y: dE/dX (keV/cm)
var gt = svg.append("g").attr("transform", "translate(44,448) rotate(-90)");
gt.append("text").attr("x", 0).attr("y", -6).attr("text-anchor", "middle")
  .attr("font-size", 26).attr("font-weight", "bold").text("dE");
gt.append("line").attr("x1", -19).attr("x2", 19).attr("y1", 0).attr("y2", 0)
  .attr("stroke", "#111").attr("stroke-width", 2.5);
gt.append("text").attr("x", 0).attr("y", 25).attr("text-anchor", "middle")
  .attr("font-size", 26).attr("font-weight", "bold").text("dX");
gt.append("text").attr("x", 120).attr("y", 10).attr("text-anchor", "middle")
  .attr("font-size", 32).attr("font-weight", "bold").text("(keV/cm)");
</script>
</body>
</html>
